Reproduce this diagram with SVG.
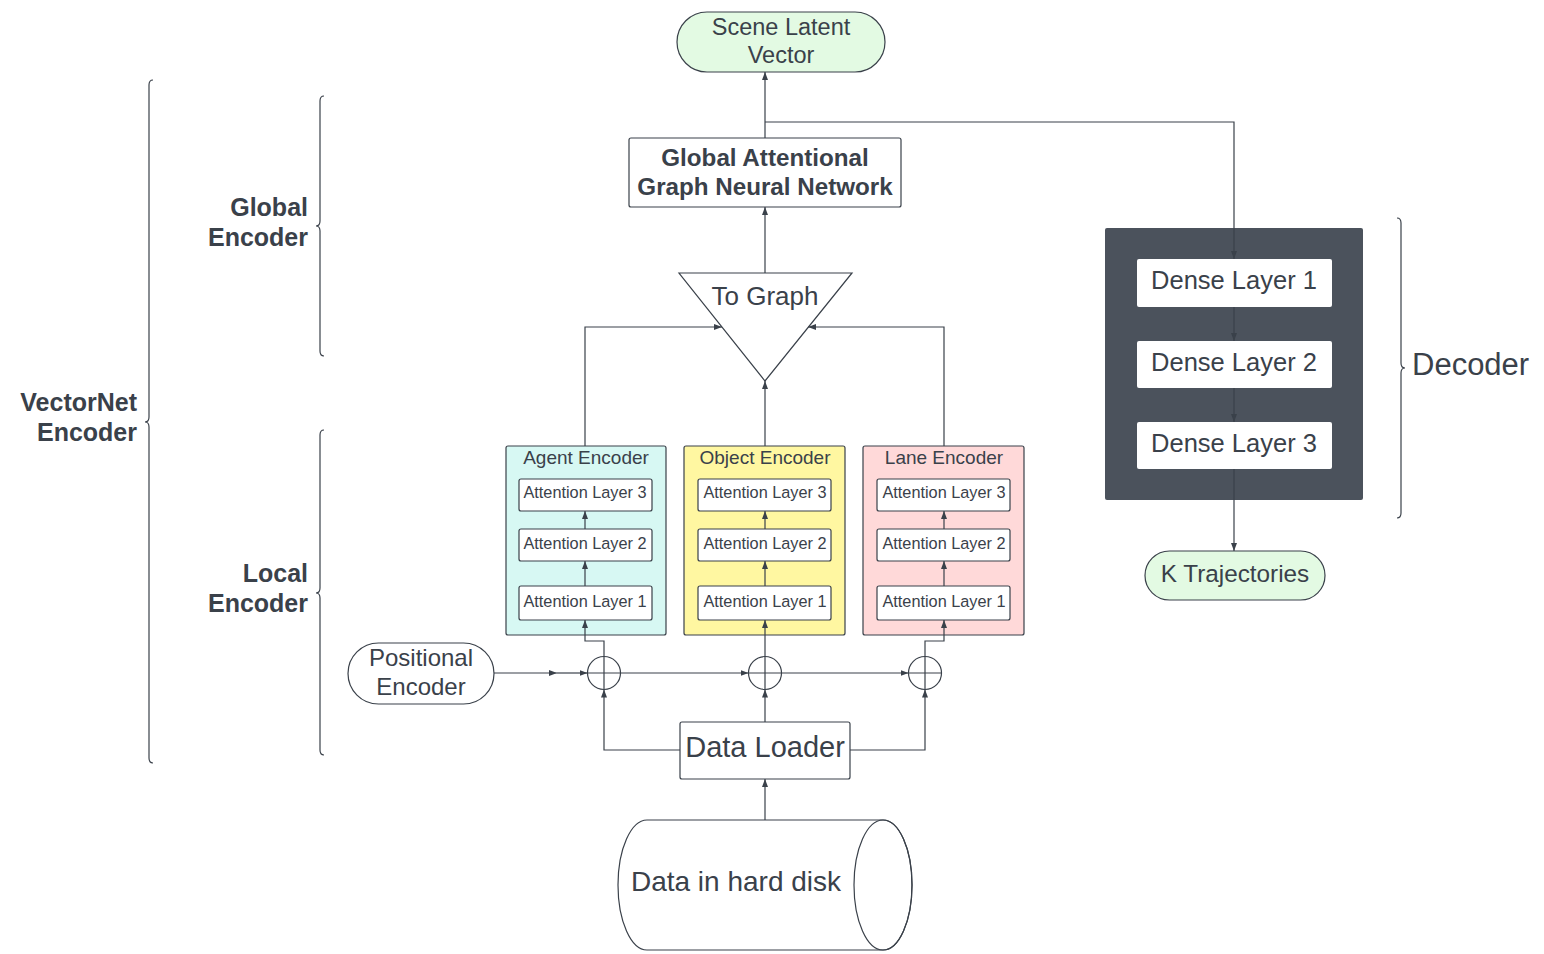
<svg xmlns="http://www.w3.org/2000/svg" width="1544" height="954" viewBox="0 0 1544 954">
<defs>
<marker id="ah" markerWidth="8" markerHeight="6" refX="8" refY="3" orient="auto" markerUnits="userSpaceOnUse">
<path d="M0,0 L8,3 L0,6 Z" fill="#3a414a"/>
</marker>
</defs>
<style>
text{font-family:"Liberation Sans",Arial,sans-serif;fill:#3a414a;text-anchor:middle;dominant-baseline:central}
.b{font-weight:bold}
.r{text-anchor:end}
.c{fill:none;stroke:#3a414a;stroke-width:1.2}
.ca{fill:none;stroke:#3a414a;stroke-width:1.2;marker-end:url(#ah)}
.box{fill:#fff;stroke:#3a414a;stroke-width:1.2}
.pill{fill:#e3fae3;stroke:#3a414a;stroke-width:1.2}
.att{font-size:16.3px}
.enc{font-size:19px}
.dense{font-size:25.5px}
</style>
<rect width="1544" height="954" fill="#fff"/>

<g id="braces">
<path class="c" d="M153,80 Q149,80 149,85 L149,417 Q149,422 145,422 Q149,422 149,427 L149,758 Q149,763 153,763"/>
<path class="c" d="M324,96 Q320,96 320,101 L320,221 Q320,226 316,226 Q320,226 320,231 L320,351 Q320,356 324,356"/>
<path class="c" d="M324,430 Q320,430 320,435 L320,588 Q320,593 316,593 Q320,593 320,598 L320,750 Q320,755 324,755"/>
<path class="c" d="M1397,218 Q1401,218 1401,223 L1401,363 Q1401,368 1405,368 Q1401,368 1401,373 L1401,513 Q1401,518 1397,518"/>
<text class="b r" x="137" y="402" font-size="25">VectorNet</text>
<text class="b r" x="137" y="432" font-size="25">Encoder</text>
<text class="b r" x="308" y="207" font-size="25">Global</text>
<text class="b r" x="308" y="237" font-size="25">Encoder</text>
<text class="b r" x="308" y="573" font-size="25">Local</text>
<text class="b r" x="308" y="603" font-size="25">Encoder</text>
<text x="1412" y="364" font-size="31" style="text-anchor:start">Decoder</text>
</g>

<g id="scene">
<rect class="pill" x="677" y="12" width="208" height="60" rx="30"/>
<text x="781" y="27" font-size="23.5">Scene Latent</text>
<text x="781" y="55" font-size="23.5">Vector</text>
</g>

<g id="gnn">
<rect class="box" x="629" y="138" width="272" height="69" rx="2"/>
<text class="b" x="765" y="157" font-size="24.2">Global Attentional</text>
<text class="b" x="765" y="186" font-size="24.2">Graph Neural Network</text>
</g>

<g id="tograph">
<path class="box" d="M679,273 L852,273 L765,381 Z"/>
<text x="765" y="296" font-size="26">To Graph</text>
</g>

<g id="agent">
<rect x="506" y="446" width="160" height="189" rx="2" fill="#d7f8f3" stroke="#3a414a" stroke-width="1.2"/>
<text class="enc" x="586" y="457">Agent Encoder</text>
<rect class="box" x="519" y="479" width="133" height="32" rx="2"/>
<text class="att" x="585" y="492">Attention Layer 3</text>
<rect class="box" x="519" y="529" width="133" height="32" rx="2"/>
<text class="att" x="585" y="543">Attention Layer 2</text>
<rect class="box" x="519" y="586" width="133" height="34" rx="2"/>
<text class="att" x="585" y="601">Attention Layer 1</text>
</g>

<g id="object">
<rect x="684" y="446" width="161" height="189" rx="2" fill="#fff7a1" stroke="#3a414a" stroke-width="1.2"/>
<text class="enc" x="765" y="457">Object Encoder</text>
<rect class="box" x="698" y="479" width="133" height="32" rx="2"/>
<text class="att" x="765" y="492">Attention Layer 3</text>
<rect class="box" x="698" y="529" width="133" height="32" rx="2"/>
<text class="att" x="765" y="543">Attention Layer 2</text>
<rect class="box" x="698" y="586" width="133" height="34" rx="2"/>
<text class="att" x="765" y="601">Attention Layer 1</text>
</g>

<g id="lane">
<rect x="863" y="446" width="161" height="189" rx="2" fill="#ffd9d9" stroke="#3a414a" stroke-width="1.2"/>
<text class="enc" x="944" y="457">Lane Encoder</text>
<rect class="box" x="877" y="479" width="133" height="32" rx="2"/>
<text class="att" x="944" y="492">Attention Layer 3</text>
<rect class="box" x="877" y="529" width="133" height="32" rx="2"/>
<text class="att" x="944" y="543">Attention Layer 2</text>
<rect class="box" x="877" y="586" width="133" height="34" rx="2"/>
<text class="att" x="944" y="601">Attention Layer 1</text>
</g>

<g id="sum1">
<circle class="box" cx="604" cy="673" r="16.5"/>
<path class="c" d="M587.5,673 H620.5 M604,656.5 V689.5"/>
</g>
<g id="sum2">
<circle class="box" cx="765" cy="673" r="16.5"/>
<path class="c" d="M748.5,673 H781.5 M765,656.5 V689.5"/>
</g>
<g id="sum3">
<circle class="box" cx="925" cy="673" r="16.5"/>
<path class="c" d="M908.5,673 H941.5 M925,656.5 V689.5"/>
</g>

<g id="posenc">
<rect class="box" x="348" y="643" width="146" height="61" rx="30.5"/>
<text x="421" y="657" font-size="24">Positional</text>
<text x="421" y="686" font-size="24">Encoder</text>
</g>

<g id="dataloader">
<rect class="box" x="680" y="722" width="170" height="57" rx="2"/>
<text x="765" y="747" font-size="29">Data Loader</text>
</g>

<g id="disk">
<path class="box" d="M647,820 L883,820 A29,65 0 0 1 883,950 L647,950 A29,65 0 0 1 647,820 Z"/>
<ellipse class="c" cx="883" cy="885" rx="29" ry="65"/>
<text x="736" y="881" font-size="28">Data in hard disk</text>
</g>

<g id="decoder">
<rect x="1105" y="228" width="258" height="272" rx="2" fill="#4b525c"/>
<rect x="1137" y="259" width="195" height="48" rx="2" fill="#fff"/>
<text class="dense" x="1234" y="280">Dense Layer 1</text>
<rect x="1137" y="341" width="195" height="47" rx="2" fill="#fff"/>
<text class="dense" x="1234" y="362">Dense Layer 2</text>
<rect x="1137" y="422" width="195" height="47" rx="2" fill="#fff"/>
<text class="dense" x="1234" y="443">Dense Layer 3</text>
</g>

<g id="ktraj">
<rect class="pill" x="1145" y="551" width="180" height="49" rx="24.5"/>
<text x="1235" y="573" font-size="24.3">K Trajectories</text>
</g>

<g id="connectors">
<path class="ca" d="M765,138 V72"/>
<path class="ca" d="M765,122 H1234 V259"/>
<path class="ca" d="M765,273 V207"/>
<path class="ca" d="M585,446 V327 H722"/>
<path class="ca" d="M944,446 V327 H808"/>
<path class="ca" d="M765,446 V381"/>
<path class="ca" d="M585,586 V561"/>
<path class="ca" d="M585,529 V511"/>
<path class="ca" d="M765,586 V561"/>
<path class="ca" d="M765,529 V511"/>
<path class="ca" d="M944,586 V561"/>
<path class="ca" d="M944,529 V511"/>
<path class="ca" d="M604,656.5 V641 H585 V620"/>
<path class="ca" d="M765,656.5 V620"/>
<path class="ca" d="M925,656.5 V641 H944 V620"/>
<path class="ca" d="M494,673 H557"/>
<path class="ca" d="M557,673 H587.5"/>
<path class="ca" d="M620.5,673 H748.5"/>
<path class="ca" d="M781.5,673 H908.5"/>
<path class="ca" d="M765,722 V689.5"/>
<path class="ca" d="M680,750 H604 V689.5"/>
<path class="ca" d="M850,750 H925 V689.5"/>
<path class="ca" d="M765,820 V779"/>
<path class="ca" d="M1234,307 V341"/>
<path class="ca" d="M1234,388 V422"/>
<path class="ca" d="M1234,469 V551"/>
</g>
</svg>
